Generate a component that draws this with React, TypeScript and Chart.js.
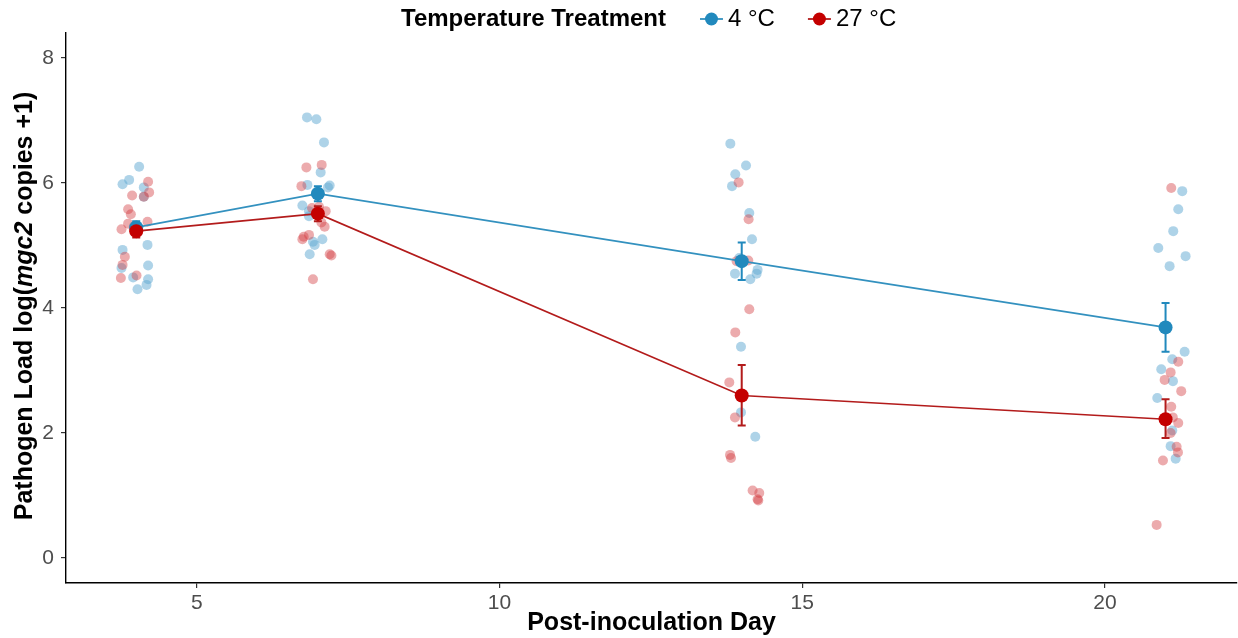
import React, { useEffect, useRef } from "react";
import { Chart, registerables } from "chart.js";
Chart.register(...registerables);

// ---- data ----
const days = [4, 7, 14, 21];
const meanCold = [5.29, 5.83, 4.75, 3.69];
const lowCold = [5.19, 5.71, 4.45, 3.3];
const highCold = [5.39, 5.95, 5.05, 4.08];
const meanWarm = [5.23, 5.51, 2.6, 2.22];
const lowWarm = [5.13, 5.39, 2.12, 1.92];
const highWarm = [5.33, 5.63, 3.09, 2.54];

// jittered observations, 4 °C
const coldX = [
  3.774, 3.883, 4.048, 4.125, 4.125, 4.186, 3.774, 3.757, 4.196, 3.949, 4.196, 4.17, 4.021, 3.96,
  6.82, 6.975, 7.101, 7.046, 6.827, 7.195, 7.167, 6.744, 6.853, 6.853, 6.919, 6.947, 7.074, 6.865,
  13.812, 14.071, 13.894, 13.84, 14.125, 14.17, 13.96, 14.262, 14.246, 13.889, 14.142, 13.988, 13.988, 14.224,
  21.276, 21.21, 21.127, 20.88, 21.331, 21.067, 21.315, 21.111, 20.929, 21.122, 20.863, 21.111, 21.084, 21.167,
];
const coldY = [
  5.98, 6.05, 6.26, 5.93, 5.78, 5.01, 4.93, 4.64, 4.68, 4.49, 4.46, 4.37, 4.3, 5.3,
  7.05, 7.02, 6.65, 6.17, 5.97, 5.96, 5.93, 5.64, 5.55, 5.47, 5.06, 5.01, 5.1, 4.86,
  6.63, 6.28, 6.14, 5.95, 5.52, 5.1, 4.8, 4.61, 4.55, 4.55, 4.46, 3.38, 2.33, 1.94,
  5.87, 5.58, 5.23, 4.96, 4.83, 4.67, 3.3, 3.18, 3.02, 2.83, 2.56, 2.04, 1.79, 1.59,
];
// jittered observations, 27 °C
const warmX = [
  4.196, 4.213, 3.932, 3.866, 3.911, 3.866, 4.186, 3.757, 3.812, 3.774, 3.746, 4.005, 4.125, 3.96,
  6.81, 7.063, 6.728, 6.903, 7.018, 7.129, 7.058, 7.112, 6.853, 6.766, 6.744, 7.195, 7.223, 6.919,
  13.949, 14.114, 13.916, 14.109, 14.125, 13.894, 13.795, 13.889, 13.807, 13.823, 14.18, 14.29, 14.262, 14.274,
  21.094, 21.21, 21.084, 20.985, 21.259, 21.094, 21.21, 21.084, 21.183, 21.205, 20.957, 20.853, 21.12,
];
const warmY = [
  6.02, 5.85, 5.8, 5.58, 5.5, 5.35, 5.38, 5.26, 4.82, 4.69, 4.48, 4.52, 5.78, 5.25,
  6.25, 6.29, 5.95, 5.6, 5.62, 5.55, 5.37, 5.3, 5.17, 5.14, 5.1, 4.86, 4.84, 4.46,
  6.01, 5.42, 4.75, 4.76, 3.98, 3.61, 2.81, 2.25, 1.65, 1.6, 1.08, 1.04, 0.94, 0.92,
  5.92, 3.14, 2.97, 2.85, 2.67, 2.42, 2.16, 2.0, 1.78, 1.69, 1.56, 0.53, 2.25,
];

const xTicks = [5, 10, 15, 20];
const yTicks = [0, 2, 4, 6, 8];
const seriesNames = ["4 °C", "27 °C"];
const legendTitle = "Temperature Treatment";
const xTitle = "Post-inoculation Day";
const yTitleParts = [
  { text: "Pathogen Load log(", italic: false },
  { text: "mgc2", italic: true },
  { text: " copies +1)", italic: false },
];

const BLUE = "#2189bd";
const RED = "#c40000";
const BLUE_LINE = "#3391bf";
const RED_LINE = "#b31b1b";
const BLUE_PT = "rgba(100,170,210,0.52)";
const RED_PT = "rgba(210,60,65,0.43)";
const FONT = "'Liberation Sans', Arial, Helvetica, sans-serif";

const zip = (xs: number[], ys: number[]) => xs.map((x, i) => ({ x, y: ys[i] }));

const extrasPlugin = {
  id: "extras",
  afterDatasetDraw(chart: any, args: any) {
    if (args.index !== 1) return;
    const { ctx, scales } = chart;
    const xs = scales.x, ys = scales.y;
    const bars = [
      { lo: lowCold, hi: highCold, c: BLUE },
      { lo: lowWarm, hi: highWarm, c: RED_LINE },
    ];
    ctx.save();
    bars.forEach((b) => {
      ctx.strokeStyle = b.c;
      ctx.lineWidth = 2;
      days.forEach((d, i) => {
        const px = xs.getPixelForValue(d);
        const p1 = ys.getPixelForValue(b.lo[i]);
        const p2 = ys.getPixelForValue(b.hi[i]);
        ctx.beginPath();
        ctx.moveTo(px, p1);
        ctx.lineTo(px, p2);
        ctx.moveTo(px - 4, p1);
        ctx.lineTo(px + 4, p1);
        ctx.moveTo(px - 4, p2);
        ctx.lineTo(px + 4, p2);
        ctx.stroke();
      });
    });
    ctx.restore();
  },
  afterDraw(chart: any) {
    const { ctx, chartArea } = chart;
    ctx.save();
    // y title with italic part
    const boldF = `bold 25px ${FONT}`;
    const italF = `italic bold 25px ${FONT}`;
    let total = 0;
    const widths = yTitleParts.map((p) => {
      ctx.font = p.italic ? italF : boldF;
      const w = ctx.measureText(p.text).width;
      total += w;
      return w;
    });
    ctx.translate(25, (chartArea.top + chartArea.bottom) / 2 - 2);
    ctx.rotate(-Math.PI / 2);
    ctx.fillStyle = "#000";
    ctx.textBaseline = "middle";
    ctx.textAlign = "left";
    let cx = -total / 2;
    yTitleParts.forEach((p, i) => {
      ctx.font = p.italic ? italF : boldF;
      ctx.fillText(p.text, cx, 0);
      cx += widths[i];
    });
    ctx.restore();

    // legend
    ctx.save();
    const ly = 19;
    ctx.textBaseline = "middle";
    ctx.textAlign = "left";
    ctx.fillStyle = "#000";
    ctx.font = `bold 24px ${FONT}`;
    let lx = 401;
    ctx.fillText(legendTitle, lx, ly);
    lx += ctx.measureText(legendTitle).width + 34;
    const cols = [
      { line: BLUE_LINE, pt: BLUE },
      { line: RED_LINE, pt: RED },
    ];
    ctx.font = `24px ${FONT}`;
    seriesNames.forEach((name, i) => {
      ctx.strokeStyle = cols[i].line;
      ctx.lineWidth = 1.8;
      ctx.beginPath();
      ctx.moveTo(lx, ly);
      ctx.lineTo(lx + 23, ly);
      ctx.stroke();
      ctx.fillStyle = cols[i].pt;
      ctx.beginPath();
      ctx.arc(lx + 11.5, ly, 6.5, 0, Math.PI * 2);
      ctx.fill();
      ctx.fillStyle = "#000";
      ctx.fillText(name, lx + 28, ly);
      lx += 28 + ctx.measureText(name).width + 33;
    });
    ctx.restore();
  },
};

export default function App() {
  const ref = useRef<HTMLCanvasElement | null>(null);
  useEffect(() => {
    if (!ref.current) return;
    const chart = new Chart(ref.current, {
      type: "scatter",
      data: {
        datasets: [
          {
            label: "4 °C obs",
            data: zip(coldX, coldY),
            backgroundColor: BLUE_PT,
            borderWidth: 0,
            pointRadius: 5,
            order: 5,
          },
          {
            label: "27 °C obs",
            data: zip(warmX, warmY),
            backgroundColor: RED_PT,
            borderWidth: 0,
            pointRadius: 5,
            order: 4,
          },
          {
            label: seriesNames[0],
            data: zip(days, meanCold),
            showLine: true,
            borderColor: BLUE_LINE,
            borderWidth: 1.7,
            backgroundColor: BLUE,
            pointBackgroundColor: BLUE,
            pointBorderWidth: 0,
            pointRadius: 7,
            order: 2,
          },
          {
            label: seriesNames[1],
            data: zip(days, meanWarm),
            showLine: true,
            borderColor: RED_LINE,
            borderWidth: 1.7,
            backgroundColor: RED,
            pointBackgroundColor: RED,
            pointBorderWidth: 0,
            pointRadius: 7,
            order: 1,
          },
        ],
      },
      options: {
        animation: false,
        responsive: false,
        maintainAspectRatio: false,
        layout: { padding: { top: 33, right: 2, left: 0, bottom: 0 } },
        plugins: {
          legend: { display: false },
          tooltip: { enabled: false },
          title: { display: false },
        },
        scales: {
          x: {
            type: "linear",
            min: 2.84,
            max: 22.18,
            afterFit: (s: any) => {
              s.height = 55;
              s.paddingLeft = 0;
              s.paddingRight = 0;
            },
            afterBuildTicks: (s: any) => {
              s.ticks = xTicks.map((v) => ({ value: v }));
            },
            grid: {
              display: true,
              drawOnChartArea: false,
              drawTicks: true,
              tickLength: 5,
              color: "#333",
              lineWidth: 1.2,
            },
            border: { display: true, color: "#000", width: 1.4 },
            ticks: {
              color: "#4d4d4d",
              font: { family: FONT, size: 21 },
              padding: 3,
              maxRotation: 0,
            },
            title: {
              display: true,
              text: xTitle,
              color: "#000",
              font: { family: FONT, size: 25, weight: "bold" },
              padding: { top: 0, bottom: 0 },
            },
          },
          y: {
            type: "linear",
            min: -0.4,
            max: 8.4,
            afterFit: (s: any) => {
              s.width = 66;
              s.paddingTop = 0;
              s.paddingBottom = 0;
            },
            afterBuildTicks: (s: any) => {
              s.ticks = yTicks.map((v) => ({ value: v }));
            },
            grid: {
              display: true,
              drawOnChartArea: false,
              drawTicks: true,
              tickLength: 5,
              color: "#333",
              lineWidth: 1.2,
            },
            border: { display: true, color: "#000", width: 1.4 },
            ticks: {
              color: "#4d4d4d",
              font: { family: FONT, size: 21 },
              padding: 7,
            },
            title: { display: false },
          },
        },
      },
      plugins: [extrasPlugin],
    } as any);
    return () => chart.destroy();
  }, []);
  return (
    <div
      style={{
        position: "absolute",
        left: 0,
        top: 0,
        width: 1238,
        height: 638,
        overflow: "hidden",
        background: "#fff",
      }}
    >
      <canvas ref={ref} width={1244} height={638} style={{ display: "block" }} />
    </div>
  );
}
